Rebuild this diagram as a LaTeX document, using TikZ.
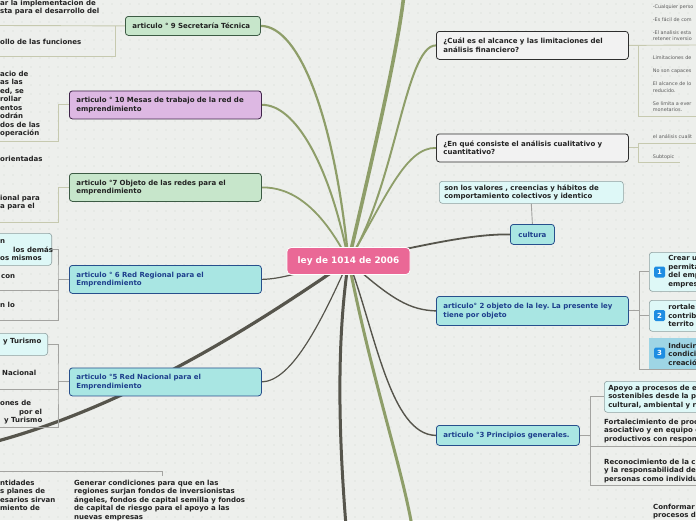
\documentclass[tikz,border=0pt]{standalone}
\usepackage{fontspec}
\setmainfont{DejaVu Sans}
\usetikzlibrary{positioning,backgrounds}
\frenchspacing

\definecolor{canvas}{HTML}{EDEFEC}
\definecolor{griddot}{HTML}{D3D7D1}
\definecolor{olivebr}{HTML}{8E9E69}
\definecolor{darkbr}{HTML}{56554C}
\definecolor{olivesub}{HTML}{C6C9AF}
\definecolor{greysub}{HTML}{A3A3A0}
\definecolor{greenfill}{HTML}{C7E6CB}
\definecolor{greenline}{HTML}{3C5B44}
\definecolor{purplefill}{HTML}{DDB8E3}
\definecolor{purpleline}{HTML}{40244A}
\definecolor{cyanfill}{HTML}{A9E6E3}
\definecolor{cyanline}{HTML}{274F8C}
\definecolor{cyantext}{HTML}{1D3E8C}
\definecolor{palefill}{HTML}{DEF8F7}
\definecolor{paleline}{HTML}{8FA1A1}
\definecolor{greyfill}{HTML}{F2F2F2}
\definecolor{greyline}{HTML}{2E2E2E}
\definecolor{rootfill}{HTML}{EA6896}
\definecolor{deepfill}{HTML}{9ED5E5}
\definecolor{iconblue}{HTML}{1E8DE2}
\definecolor{notegrey}{HTML}{5C5C5C}
\definecolor{ink}{HTML}{222222}

\newcommand\topicfont{\bfseries\fontsize{7}{8.5}\selectfont}
\newcommand\notefont{\fontsize{4.9}{6.3}\selectfont}

\tikzset{
  topic/.style={draw, rounded corners=3pt, line width=0.8pt, font=\topicfont,
    align=left, inner xsep=7pt, inner ysep=1pt, anchor=north west},
  green topic/.style={topic, fill=greenfill, draw=greenline, text=ink},
  purple topic/.style={topic, fill=purplefill, draw=purpleline, text=ink},
  cyan topic/.style={topic, fill=cyanfill, draw=cyanline, text=cyantext},
  grey topic/.style={topic, fill=greyfill, draw=greyline, text=ink},
  pale topic/.style={topic, fill=palefill, draw=paleline, line width=0.6pt, text=ink},
  rootbox/.style={fill=rootfill, draw=white, line width=0.8pt, rounded corners=4pt,
    minimum width=123pt, minimum height=27pt, text=white,
    font=\bfseries\fontsize{8.9}{10}\selectfont},
  % base = baseline of the last line
  frag/.style={font=\topicfont, text=ink, align=left, inner sep=0pt, anchor=base west},
  notes/.style={font=\notefont, text=notegrey, align=left, inner sep=0pt, anchor=base west},
  icon/.style={fill=iconblue, rounded corners=1.5pt, minimum size=11pt, inner sep=0pt,
    text=white, font=\bfseries\fontsize{7}{7}\selectfont},
  olive branch/.style={draw=olivebr, line cap=round},
  dark branch/.style={draw=darkbr, line cap=round},
  olive sub/.style={draw=olivesub, line width=0.9pt},
  grey sub/.style={draw=greysub, line width=0.9pt}
}

\begin{document}
\begin{tikzpicture}[x=1pt,y=-1pt]
  \useasboundingbox (0,0) rectangle (696,520);
  \clip (0,0) rectangle (696,520);

  % central topic
  \node[rootbox] (law) at (348.5,261) {ley de 1014 de 2006};

  % left branches
  \node[green topic, text width=121pt, minimum height=19pt] (art9) at (125,16) {articulo ° 9 Secretaría Técnica};
  \node[purple topic, text width=178pt, minimum height=28pt] (art10) at (69,90.5) {articulo ° 10 Mesas de trabajo de la red de\\emprendimiento};
  \node[green topic, text width=178pt, minimum height=28pt] (art7) at (69,173) {articulo °7 Objeto de las redes para el\\emprendimiento};
  \node[cyan topic, text width=178pt, minimum height=28pt] (art6) at (69,265) {articulo ° 6 Red Regional para el\\Emprendimiento};
  \node[cyan topic, text width=178pt, minimum height=28pt] (art5) at (69,367.5) {articulo °5 Red Nacional para el\\Emprendimiento};
  \node[pale topic, anchor=north east, minimum width=110pt, minimum height=32pt] (net6) at (52,233) {};
  \node[pale topic, anchor=north east, minimum width=110pt, minimum height=22pt] (net5) at (48,333) {};

  % right branches
  \node[grey topic, text width=178pt, minimum height=28pt] (limits) at (436,31) {¿Cuál es el alcance y las limitaciones del\\análisis financiero?};
  \node[grey topic, text width=178pt, minimum height=28pt] (methods) at (436,133.5) {¿En qué consiste el análisis cualitativo y\\cuantitativo?};
  \node[pale topic, text width=174pt, inner xsep=5pt, minimum height=22pt] (values) at (439,181) {son los valores , creencias y hábitos de\\comportamiento colectivos y identico};
  \node[cyan topic, inner xsep=6pt, minimum width=44pt, minimum height=20pt, align=center] (culture) at (510,224) {cultura};
  \node[cyan topic, text width=178pt, minimum height=29pt] (art2) at (436,296) {articulo° 2 objeto de la ley. La presente ley\\tiene por objeto};
  \node[cyan topic, text width=129pt, minimum height=20pt] (art3) at (436,425) {articulo °3 Principios generales.};

  \node[pale topic, text width=60pt, inner xsep=19pt, minimum height=39pt] (aim1) at (649,252) {Crear u\\permita\\del emp\\empres};
  \node[pale topic, text width=60pt, inner xsep=19pt, minimum height=31pt] (aim2) at (649,300) {rortale\\contrib\\territo};
  \node[topic, draw=none, rounded corners=0pt, fill=deepfill, text=ink, text width=60pt, inner xsep=19pt, minimum height=31pt] (aim3) at (649,338) {Inducir\\condici\\creació};
  \node[icon] (num1) at (659.5,272) {1};
  \node[icon] (num2) at (659.5,315.5) {2};
  \node[icon] (num3) at (659.5,353) {3};
  \node[pale topic, text width=100pt, inner xsep=4pt, minimum height=31pt] (rule1) at (604,381) {Apoyo a procesos de e\\sostenibles desde la pe\\cultural, ambiental y r};

  % subtopic texts cut by the frame
  \node[frag] (t9a) at (0,13.9) {ar la implementacion de\\sta para el desarrollo del};
  \node[frag] (t9b) at (0,44.4) {ollo de las funciones};
  \node[frag] (t10a) at (0,135.9) {acio de\\as las\\ed, se\\rollar\\entos\\odrán\\dos de las\\operación};
  \node[frag] (t10b) at (0,161.4) {orientadas};
  \node[frag] (t7a) at (0,208.9) {ional para\\a para el};
  \node[frag] (t6a) at (0,243.4) {n};
  \node[frag] (t6b) at (13,252.4) {los demás};
  \node[frag] (t6c) at (0,260.4) {os mismos};
  \node[frag] (t6d) at (1,278.4) {con};
  \node[frag] (t6e) at (0,307.4) {n lo};
  \node[frag] (t5a) at (3,343.4) {y Turismo};
  \node[frag] (t5b) at (2,375.4) {Nacional};
  \node[frag] (t5c) at (0,405.4) {ones de};
  \node[frag] (t5d) at (19,414.4) {por el};
  \node[frag] (t5e) at (4,422.4) {y Turismo};
  \node[frag] (t0a) at (0,510.9) {ntidades\\s planes de\\esarios sirvan\\miento de};
  \node[frag] (t0b) at (74,519.4) {Generar condiciones para que en las\\regiones surjan fondos de inversionistas\\ángeles, fondos de capital semilla y fondos\\de capital de riesgo para el apoyo a las\\nuevas empresas};
  \node[frag] (t3a) at (604,441.4) {Fortalecimiento de proc\\asociativo y en equipo e\\productivos con respon};
  \node[frag] (t3b) at (604,481.4) {Reconocimiento de la c\\y la responsabilidad del\\personas como individu};
  \node[frag] (t3c) at (653,517.9) {Conformar\\procesos d};

  \node[notes] (n1) at (652.7,8.4) {-Cualquier perso};
  \node[notes] (n2) at (652.7,21) {-Es fácil de com};
  \node[notes] (n3) at (652.7,40.7) {-El analisis esta\\retener inversio};
  \node[notes] (n4) at (652.7,59) {Limitaciones de};
  \node[notes] (n5) at (652.7,72.7) {No son capaces};
  \node[notes] (n6) at (652.7,92) {El alcance de lo\\reducido.};
  \node[notes] (n7) at (652.7,111.7) {Se limita a ever\\monetarios.};
  \node[notes] (n8) at (652.7,138.4) {el análisis cualit};
  \node[notes] (n9) at (652.7,158.4) {Subtopic};

  % free ends
  \coordinate (up) at (404,-6);
  \coordinate (down) at (412,526);
  \coordinate (west) at (-6,442);
  \coordinate (south) at (346,526);
  \coordinate (s9a) at (-1,25.5);
  \coordinate (s9b) at (-1,56);
  \coordinate (s10) at (-1,141);
  \coordinate (s7) at (-1,222);
  \coordinate (s6a) at (-1,290);
  \coordinate (s6b) at (-1,320);
  \coordinate (s5a) at (-1,389);
  \coordinate (s5b) at (-1,427);
  \coordinate (s0a) at (-1,471);
  \coordinate (s0b) at (162,476);
  \coordinate (sl1) at (697,45);
  \coordinate (sl2) at (697,116);
  \coordinate (sm1) at (697,143);
  \coordinate (sm2) at (680,162);
  \coordinate (s2) at (697,369);
  \coordinate (s3a) at (697,446);
  \coordinate (s3b) at (697,485);

  \begin{scope}[on background layer]
    \fill[canvas] (0,0) rectangle (696,520);
    \foreach \gx in {4,13,...,696}
      \foreach \gy in {4,13,...,520}
        \fill[griddot] (\gx,\gy) circle (0.55);

    % main branches
    \draw[olive branch, line width=2.2pt] (law.center) .. controls (335,120) and (300,26) .. (art9.east);
    \draw[olive branch, line width=2pt] (law.center) .. controls (330,165) and (295,104) .. (art10.east);
    \draw[olive branch, line width=1.8pt] (law.center) .. controls (320,205) and (290,187) .. (art7.east);
    \draw[olive branch, line width=3.6pt] (law.center) .. controls (372,160) and (398,50) .. (up);
    \draw[olive branch, line width=2pt] (law.center) .. controls (395,190) and (405,45) .. (limits.west);
    \draw[olive branch, line width=1.8pt] (law.center) .. controls (385,200) and (405,147) .. (methods.west);
    \draw[olive branch, line width=3pt] (law.center) .. controls (372,380) and (400,460) .. (down);
    \draw[dark branch, line width=1.2pt] (law.center) .. controls (300,272) and (282,279) .. (art6.east);
    \draw[dark branch, line width=1.2pt] (law.center) .. controls (318,330) and (290,381) .. (art5.east);
    \draw[dark branch, line width=3.2pt] (law.center) .. controls (290,300) and (150,400) .. (west);
    \draw[dark branch, line width=3pt] (law.center) .. controls (335,350) and (340,450) .. (south);
    \draw[dark branch, line width=1.8pt] (law.center) .. controls (425,245) and (470,234) .. (culture.west);
    \draw[dark branch, line width=1.4pt] (law.center) .. controls (392,300) and (410,310) .. (art2.west);
    \draw[dark branch, line width=1.4pt] (law.center) .. controls (375,330) and (390,435) .. (art3.west);

    % subtopic brackets
    \draw[olive sub] (art9.west) -- (s9a);
    \draw[olive sub] (art9.west) ++(-10,0) |- (s9b);
    \draw[olive sub] (art10.west) -- ++(-11,0) |- (s10);
    \draw[olive sub] (art7.west) -- ++(-11,0) |- (s7);
    \draw[grey sub] (art6.west) -- ++(-11,0) coordinate (k6);
    \draw[grey sub] (net6.east) -| (k6) |- (s6b);
    \draw[grey sub] (k6) |- (s6a);
    \draw[grey sub] (art5.west) -- ++(-11,0) coordinate (k5);
    \draw[grey sub] (net5.east) -| (k5) |- (s5b);
    \draw[grey sub] (k5) |- (s5a);
    \draw[grey sub] (s0a) -| (s0b);
    \draw[olive sub] (limits.east) -- (sl1);
    \draw[olive sub] (limits.east) ++(10,0) |- (sl2);
    \draw[olive sub] (methods.east) -- ++(10,0) coordinate (km);
    \draw[olive sub] (km) |- (sm1);
    \draw[olive sub] (km) |- (sm2);
    \draw[grey sub] (values.south) -- (culture.north);
    \draw[grey sub] (art2.east) -- ++(11,0) coordinate (k2);
    \draw[grey sub] (aim1.west) -| (k2);
    \draw[grey sub] (aim2.west) -| (k2);
    \draw[grey sub] (k2) |- (s2);
    \draw[grey sub] (art3.east) -- ++(11,0) coordinate (k3);
    \draw[grey sub] (rule1.west) -| (k3) |- (s3b);
    \draw[grey sub] (k3) |- (s3a);
  \end{scope}
\end{tikzpicture}
\end{document}
